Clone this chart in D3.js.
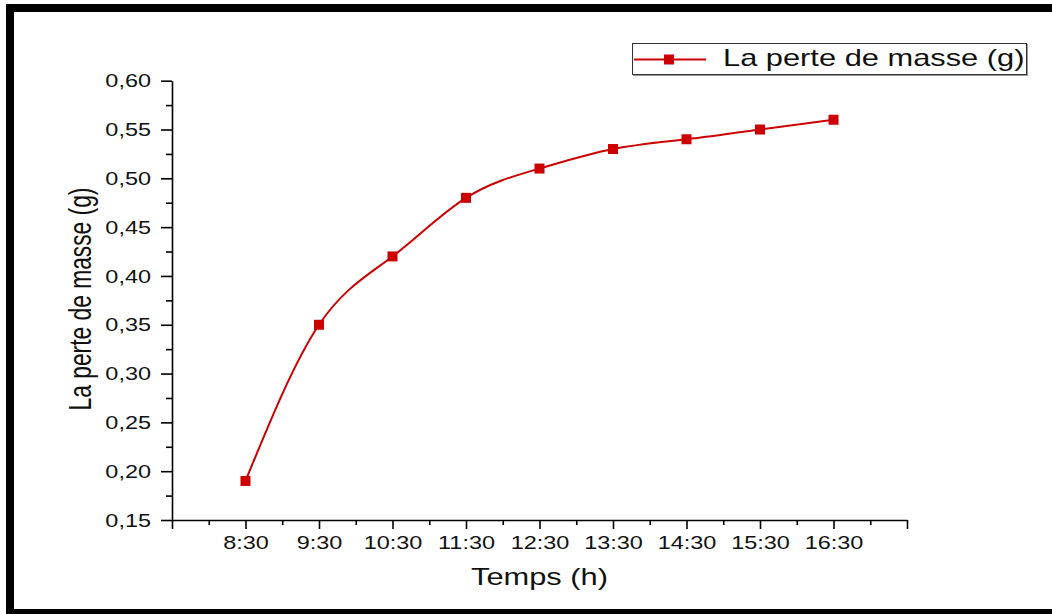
<!DOCTYPE html>
<html>
<head>
<meta charset="utf-8">
<script src="https://cdn.jsdelivr.net/npm/d3@7"></script>
<style>
  body { margin: 0; background: #fff; }
  svg { display: block; font-family: "Liberation Sans", Arial, sans-serif; }
</style>
</head>
<body>
<script>
// data
const times = ["8:30", "9:30", "10:30", "11:30", "12:30", "13:30", "14:30", "15:30", "16:30"];
const massLoss = [0.19, 0.35, 0.42, 0.48, 0.51, 0.53, 0.54, 0.55, 0.56];
const yTicks = [0.15, 0.20, 0.25, 0.30, 0.35, 0.40, 0.45, 0.50, 0.55, 0.60];
const seriesName = "La perte de masse (g)";

const W = 1052, H = 614;
const red = "#cc0000";
const stretch = 1.34; // the original picture is wider than tall, text looks stretched

const svg = d3.select("body").append("svg")
  .attr("width", W)
  .attr("height", H);

// frame around the picture
svg.append("rect").attr("x", 6).attr("y", 4).attr("width", W - 6).attr("height", 8).attr("fill", "#000");
svg.append("rect").attr("x", 6).attr("y", 4).attr("width", 8).attr("height", H - 4).attr("fill", "#000");
svg.append("rect").attr("x", 6).attr("y", 609).attr("width", W - 6).attr("height", 5).attr("fill", "#000");

// scales
const x = d3.scaleLinear().domain([-1, 9]).range([172, 907]);
const y = d3.scaleLinear().domain([0.15, 0.60]).range([520, 80.7]);
const fmt = v => d3.format(".2f")(v).replace(".", ",");

// minor ticks
svg.append("g")
  .attr("transform", "translate(172,0)")
  .call(d3.axisLeft(y).tickValues(d3.range(0.175, 0.6, 0.05)).tickSize(6).tickFormat(""))
  .call(g => g.select(".domain").remove());
svg.append("g")
  .attr("transform", "translate(0,520)")
  .call(d3.axisBottom(x).tickValues(d3.range(-0.5, 9, 1)).tickSize(5).tickFormat(""))
  .call(g => g.select(".domain").remove());

// y axis
const yAxis = svg.append("g")
  .attr("transform", "translate(172,0)")
  .call(d3.axisLeft(y).tickValues(yTicks).tickSize(11).tickSizeOuter(0).tickFormat(fmt));
yAxis.selectAll("text")
  .attr("x", 0).attr("dy", "0.35em")
  .attr("transform", `translate(-21,0) scale(${stretch},1)`)
  .attr("font-size", 17.5).attr("fill", "#111");

// x axis
const xAxis = svg.append("g")
  .attr("transform", "translate(0,520)")
  .call(d3.axisBottom(x).tickValues(d3.range(-1, 10, 1)).tickSize(9).tickSizeOuter(0)
    .tickFormat(i => times[i] || ""));
xAxis.selectAll("text")
  .attr("y", 0).attr("dy", "0")
  .attr("transform", `translate(0,29) scale(${stretch},1)`)
  .attr("font-size", 17.5).attr("fill", "#111");

svg.selectAll(".domain, .tick line").attr("stroke", "#000").attr("stroke-width", 1.6);

// axis titles
svg.append("text")
  .attr("transform", `translate(539.5,585) scale(${stretch},1)`)
  .attr("text-anchor", "middle")
  .attr("font-size", 23)
  .attr("fill", "#111")
  .text("Temps (h)");

svg.append("text")
  .attr("transform", `translate(91,299) scale(${stretch},1) rotate(-90)`)
  .attr("text-anchor", "middle")
  .attr("font-size", 22.8)
  .attr("fill", "#111")
  .text(seriesName);

// series line
const line = d3.line()
  .x((d, i) => x(i))
  .y(d => y(d))
  .curve(d3.curveNatural);

svg.append("path")
  .datum(massLoss)
  .attr("d", line)
  .attr("fill", "none")
  .attr("stroke", red)
  .attr("stroke-width", 2);

svg.append("g")
  .selectAll("rect")
  .data(massLoss)
  .join("rect")
  .attr("x", (d, i) => x(i) - 5)
  .attr("y", d => y(d) - 5)
  .attr("width", 10)
  .attr("height", 10)
  .attr("fill", red);

// legend
const legend = svg.append("g").attr("transform", "translate(632,43)");
legend.append("rect")
  .attr("x", 1).attr("y", 1).attr("width", 395).attr("height", 32)
  .attr("fill", "#999");
legend.append("rect")
  .attr("x", 0.5).attr("y", 0.5).attr("width", 394).attr("height", 31)
  .attr("fill", "#fff").attr("stroke", "#333").attr("stroke-width", 1);
legend.append("line")
  .attr("x1", 2).attr("x2", 74).attr("y1", 16.5).attr("y2", 16.5)
  .attr("stroke", red).attr("stroke-width", 2);
legend.append("rect")
  .attr("x", 32).attr("y", 11.5).attr("width", 10).attr("height", 10)
  .attr("fill", red);
legend.append("text")
  .attr("transform", `translate(91,23) scale(${stretch},1)`)
  .attr("font-size", 23)
  .attr("fill", "#111")
  .text(seriesName);
</script>
</body>
</html>
